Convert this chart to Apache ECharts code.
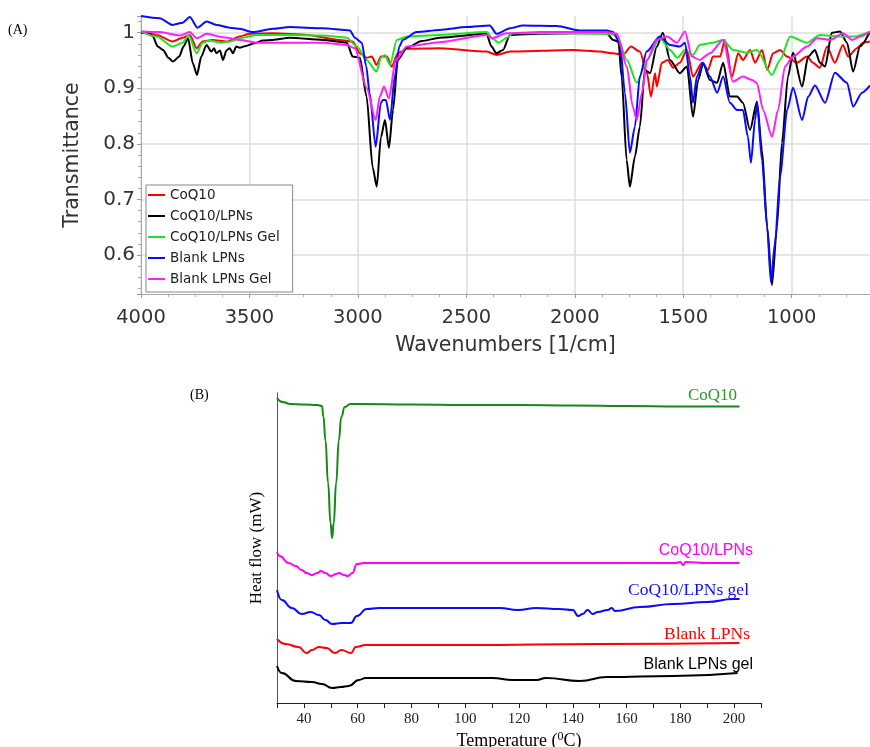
<!DOCTYPE html>
<html lang="en">
<head>
  <meta charset="UTF-8">
  <title>FTIR and DSC</title>
  <style>
    html, body { margin: 0; padding: 0; background: #fff; }
    #chart { width: 870px; height: 747px; }
  </style>
</head>
<body>
  <div id="chart"></div>
  <script src="https://cdn.jsdelivr.net/npm/echarts@6/dist/echarts.min.js"></script>
  <script>
    // (A) FTIR spectra, [wavenumber 1/cm, transmittance]
    var ftirNames = ['CoQ10', 'CoQ10/LPNs', 'CoQ10/LPNs Gel', 'Blank LPNs', 'Blank LPNs Gel'];
    var ftirColors = ['#ff0000', '#000000', '#1ee61e', '#0a0aff', '#ff1eff'];

    var ftirCoq10 = [[4000,1.002],[3928,0.996],[3854,0.984],[3808,0.991],[3775,0.996],[3743,0.972],[3716,0.984],[3670,0.987],[3605,0.984],[3545,0.993],[3499,0.998],[3392,0.999],[3236,0.996],[3083,0.987],[3024,0.984],[2991,0.963],[2960,0.955],[2936,0.957],[2914,0.942],[2894,0.957],[2866,0.957],[2844,0.939],[2816,0.963],[2774,0.971],[2623,0.972],[2406,0.966],[2360,0.960],[2299,0.966],[2009,0.969],[1884,0.966],[1825,0.963],[1778,0.960],[1741,0.975],[1700,0.966],[1667,0.927],[1649,0.885],[1630,0.927],[1622,0.903],[1599,0.946],[1571,0.951],[1547,0.937],[1516,0.946],[1483,0.969],[1455,0.921],[1414,0.946],[1386,0.933],[1363,0.957],[1330,0.957],[1308,0.987],[1275,0.921],[1247,0.963],[1225,0.951],[1192,0.969],[1169,0.946],[1137,0.969],[1113,0.933],[1086,0.963],[1054,0.969],[1021,0.957],[976,0.946],[929,0.957],[902,0.946],[870,0.937],[837,0.975],[801,0.946],[764,0.978],[740,0.957],[699,0.972],[671,0.982],[639,0.984]];

    var ftirCoq10Lpn = [[4000,1.0],[3960,0.999],[3945,0.993],[3923,0.975],[3898,0.969],[3874,0.955],[3853,0.948],[3824,0.957],[3804,0.975],[3783,0.990],[3761,0.945],[3742,0.924],[3722,0.957],[3698,0.978],[3676,0.966],[3663,0.972],[3653,0.963],[3636,0.968],[3622,0.951],[3606,0.968],[3591,0.972],[3576,0.963],[3561,0.975],[3545,0.973],[3517,0.976],[3477,0.981],[3437,0.986],[3392,0.987],[3314,0.991],[3162,0.987],[3051,0.982],[3024,0.957],[2991,0.955],[2960,0.885],[2932,0.758],[2913,0.723],[2894,0.812],[2875,0.843],[2857,0.793],[2838,0.861],[2816,0.951],[2774,0.973],[2705,0.985],[2623,0.991],[2407,0.998],[2384,0.975],[2361,0.963],[2331,0.969],[2299,0.996],[2160,0.998],[2008,0.999],[1853,0.999],[1823,0.987],[1799,0.984],[1784,0.921],[1761,0.771],[1746,0.723],[1723,0.777],[1700,0.831],[1677,0.933],[1653,0.927],[1622,0.975],[1594,1.0],[1561,0.951],[1516,0.927],[1483,0.939],[1455,0.849],[1431,0.915],[1408,0.945],[1377,0.915],[1344,0.910],[1316,0.946],[1285,0.885],[1252,0.885],[1225,0.874],[1192,0.825],[1160,0.876],[1137,0.789],[1113,0.650],[1091,0.546],[1068,0.650],[1045,0.802],[1017,0.921],[994,0.964],[952,0.903],[924,0.957],[893,0.969],[870,0.946],[846,0.939],[815,1.0],[777,1.002],[745,0.982],[717,0.930],[685,0.975],[639,1.002]];

    var ftirCoq10LpnGel = [[4000,1.002],[3928,0.993],[3854,0.975],[3808,0.982],[3780,0.995],[3743,0.963],[3716,0.982],[3684,0.986],[3637,0.982],[3591,0.984],[3531,0.991],[3466,0.996],[3314,0.996],[3162,0.995],[3051,0.991],[3005,0.975],[2960,0.951],[2914,0.930],[2894,0.955],[2876,0.960],[2852,0.942],[2821,0.987],[2774,0.993],[2623,0.996],[2406,1.001],[2378,0.989],[2351,0.982],[2314,0.991],[2286,0.999],[2009,0.999],[1852,0.998],[1806,0.996],[1760,0.951],[1714,0.910],[1667,0.951],[1608,0.991],[1561,0.969],[1527,0.955],[1492,0.969],[1455,0.960],[1424,0.978],[1363,0.982],[1316,0.987],[1271,0.969],[1207,0.964],[1160,0.969],[1091,0.924],[1054,0.951],[1007,0.993],[929,0.982],[870,0.996],[777,0.993],[717,0.993],[639,1.002]];

    var ftirBlankLpn = [[4000,1.030],[3914,1.026],[3854,1.014],[3808,1.018],[3775,1.028],[3739,1.009],[3697,1.020],[3651,1.014],[3591,1.009],[3545,1.007],[3485,1.001],[3392,1.007],[3314,1.010],[3162,1.008],[3037,1.004],[3014,0.991],[2982,0.982],[2962,0.940],[2946,0.892],[2918,0.795],[2894,0.874],[2885,0.879],[2871,0.879],[2852,0.843],[2830,0.921],[2809,0.975],[2793,0.987],[2729,1.001],[2623,1.005],[2498,1.010],[2392,1.013],[2361,0.998],[2299,1.008],[2239,1.013],[2083,1.012],[1976,1.004],[1852,1.004],[1825,1.001],[1792,0.982],[1769,0.892],[1746,0.784],[1723,0.831],[1700,0.921],[1669,0.966],[1608,0.993],[1561,0.978],[1516,0.975],[1492,0.982],[1469,0.921],[1455,0.874],[1437,0.921],[1409,0.946],[1377,0.921],[1344,0.892],[1316,0.921],[1285,0.874],[1252,0.861],[1225,0.861],[1202,0.813],[1188,0.766],[1169,0.843],[1160,0.874],[1137,0.771],[1113,0.650],[1096,0.551],[1077,0.622],[1054,0.741],[1021,0.861],[994,0.901],[952,0.843],[924,0.885],[893,0.905],[846,0.874],[801,0.928],[745,0.910],[717,0.867],[676,0.892],[639,0.905]];

    var ftirBlankLpnGel = [[4000,1.002],[3914,1.001],[3822,0.995],[3775,1.001],[3743,0.990],[3697,0.998],[3623,0.992],[3545,0.987],[3466,0.982],[3314,0.982],[3162,0.982],[3051,0.978],[3014,0.972],[2960,0.901],[2918,0.843],[2899,0.885],[2880,0.903],[2857,0.882],[2826,0.950],[2774,0.975],[2623,0.983],[2406,0.996],[2382,0.990],[2314,0.999],[2161,1.001],[1852,1.001],[1806,0.998],[1760,0.939],[1733,0.867],[1714,0.843],[1691,0.891],[1667,0.951],[1622,0.987],[1575,0.993],[1529,0.982],[1492,1.002],[1460,0.957],[1424,0.951],[1377,0.963],[1316,0.987],[1271,0.912],[1225,0.921],[1183,0.915],[1160,0.909],[1132,0.861],[1091,0.813],[1063,0.861],[1031,0.939],[994,0.957],[929,0.975],[883,0.990],[823,0.987],[763,0.999],[721,0.987],[685,0.993],[639,1.002]];

    var ftirData = [ftirCoq10, ftirCoq10Lpn, ftirCoq10LpnGel, ftirBlankLpn, ftirBlankLpnGel];

    // (B) DSC thermograms, [temperature C, heat flow (offset, arb.)]
    var dscNames = ['CoQ10', 'CoQ10/LPNs', 'CoQ10/LPNs gel', 'Blank LPNs', 'Blank LPNs gel'];
    var dscColors = ['#138a13', '#ff00ff', '#0a0aff', '#ff0000', '#000000'];

    var dscCoq10 = [[30,30.5],[32,30.1],[35,29.9],[40,29.85],[45,29.8],[46.7,29.7],[47.3,28.6],[48,26.3],[49,22.0],[49.9,18.0],[50.5,16.5],[51.1,18.0],[52,22.0],[53,26.3],[53.9,28.6],[55.2,29.6],[57.3,29.9],[60,29.9],[80,29.85],[100,29.8],[120,29.8],[140,29.75],[160,29.7],[180,29.65],[202,29.65]];
    var dscCoq10Lpn = [[30,15.1],[31,14.7],[34.3,14.0],[37,13.7],[39.2,13.3],[41,13.0],[43,12.8],[45,13.0],[46.3,13.2],[48,13.0],[50,12.7],[52,12.9],[53,13.0],[55,12.8],[56.4,12.7],[58,13.0],[59.7,13.9],[62.3,14.0],[100,14.0],[178,14.0],[180,14.1],[181,13.8],[182,14.1],[190,14.0],[202,14.0]];
    var dscCoq10LpnGel = [[30,11.3],[31.8,10.3],[35.5,9.5],[39.2,8.9],[42.5,9.1],[45.6,8.8],[48,8.3],[50.5,7.9],[54,8.0],[57.5,8.0],[59.7,8.7],[63.4,9.4],[68,9.5],[100,9.5],[112.8,9.5],[119.5,9.3],[126.5,9.5],[135,9.4],[140,9.3],[142,8.7],[143.7,8.9],[145.5,9.3],[147.4,8.9],[149.3,9.1],[153,9.3],[154.5,9.5],[155.7,9.2],[165,9.6],[177.4,9.9],[190,10.1],[199.7,10.4],[202,10.4]];
    var dscBlankLpn = [[30,6.4],[33.2,5.9],[38,5.6],[41,5.0],[43,5.3],[45.6,5.6],[48.5,5.5],[51.5,5.0],[54,5.3],[57.5,5.0],[59.3,5.6],[63,5.8],[100,5.8],[150,5.9],[202,6.0]];
    var dscBlankLpnGel = [[30,3.7],[31.8,3.0],[37,2.2],[43,2.1],[46.7,1.9],[50.5,1.5],[53.7,1.6],[56.7,1.7],[60.4,2.3],[63,2.5],[110,2.5],[117.7,2.3],[126.5,2.3],[130,2.5],[142.6,2.2],[152.7,2.6],[177.4,2.7],[201.3,3.0]];

    var dscData = [dscCoq10, dscCoq10Lpn, dscCoq10LpnGel, dscBlankLpn, dscBlankLpnGel];

    var sans = 'DejaVu Sans';
    var serif = 'Liberation Serif';

    var series = [];
    ftirData.forEach(function (d, i) {
      series.push({
        name: ftirNames[i], type: 'line', xAxisIndex: 0, yAxisIndex: 0,
        data: d, showSymbol: false, smooth: 0.25, smoothMonotone: 'x',
        lineStyle: { color: ftirColors[i], width: 2 }, itemStyle: { color: ftirColors[i] }
      });
    });
    dscData.forEach(function (d, i) {
      series.push({
        name: 'DSC ' + dscNames[i], type: 'line', xAxisIndex: 1, yAxisIndex: 1,
        data: d, showSymbol: false, smooth: 0.5, smoothMonotone: 'x',
        lineStyle: { color: dscColors[i], width: 2 }
      });
    });

    // labels beside the DSC curves
    var dscLabels = [
      { x: 737, y: 396, font: '17px "Liberation Serif"', fill: '#2a9a2a' },
      { x: 753, y: 551, font: '16px "Liberation Sans"', fill: '#ff00ff' },
      { x: 749, y: 590, font: '17.5px "Liberation Serif"', fill: '#1010ff' },
      { x: 750, y: 634, font: '17.5px "Liberation Serif"', fill: '#ff0000' },
      { x: 753, y: 665, font: '16px "Liberation Sans"', fill: '#000' }
    ];
    var graphics = [
      { type: 'text', x: 8, y: 30, style: { text: '(A)', font: '14px "Liberation Serif"', fill: '#000', verticalAlign: 'middle' } },
      { type: 'text', x: 190, y: 395, style: { text: '(B)', font: '14px "Liberation Serif"', fill: '#000', verticalAlign: 'middle' } }
    ];
    dscLabels.forEach(function (l, i) {
      graphics.push({ type: 'text', x: l.x, y: l.y, style: { text: dscNames[i], font: l.font, fill: l.fill, align: 'right', verticalAlign: 'middle' } });
    });

    var chart = echarts.init(document.getElementById('chart'));
    chart.setOption({
      animation: false,
      backgroundColor: '#fff',
      grid: [
        { left: 141, top: 16, width: 729, height: 278, outerBoundsMode: 'none' },
        { left: 277, top: 393, width: 484, height: 310, outerBoundsMode: 'none' }
      ],
      legend: {
        data: ftirNames,
        orient: 'vertical', left: 146, top: 185,
        icon: 'rect', itemWidth: 17, itemHeight: 2, itemGap: 7,
        padding: [3, 13, 6, 2],
        borderColor: '#888', borderWidth: 1, backgroundColor: '#fff',
        textStyle: { fontFamily: sans, fontSize: 13.5, color: '#222', lineHeight: 14 }
      },
      xAxis: [
        {
          gridIndex: 0, type: 'value', inverse: true, min: 639, max: 4000, splitNumber: 7,
          name: 'Wavenumbers [1/cm]', nameLocation: 'middle', nameGap: 41,
          nameTextStyle: { fontFamily: sans, fontSize: 20.5, color: '#333' },
          axisLine: { lineStyle: { color: '#aaa' } },
          axisTick: { show: true, length: 4, lineStyle: { color: '#999' } },
          minorTick: { show: true, splitNumber: 4, length: 3, lineStyle: { color: '#aaa' } },
          axisLabel: {
            fontFamily: sans, fontSize: 19.5, color: '#333', margin: 14, showMinLabel: false,
            formatter: function (v) { return String(v); }
          },
          splitLine: { show: true, showMinLine: false, lineStyle: { color: '#dcdcdc', width: 1.5 } }
        },
        {
          gridIndex: 1, type: 'value', min: 30, max: 210, interval: 10,
          name: '{t|Temperature (}{s|0}{t|C)}', nameLocation: 'middle', nameGap: 28,
          nameTextStyle: {
            rich: {
              t: { fontFamily: serif, fontSize: 18, color: '#000', lineHeight: 20 },
              s: { fontFamily: serif, fontSize: 12, color: '#000', verticalAlign: 'top', padding: [0, 0, 6, 0] }
            }
          },
          axisLine: { lineStyle: { color: '#222' } },
          axisTick: { length: 5, lineStyle: { color: '#222' } },
          axisLabel: {
            fontFamily: serif, fontSize: 15, color: '#222', margin: 9,
            formatter: function (v) { return (v % 20 === 0 && v > 30 && v < 210) ? String(v) : ''; }
          },
          splitLine: { show: false }
        }
      ],
      yAxis: [
        {
          gridIndex: 0, type: 'value', min: 0.53, max: 1.03, splitNumber: 5,
          name: 'Transmittance', nameLocation: 'middle', nameGap: 58,
          nameTextStyle: { fontFamily: sans, fontSize: 20.5, color: '#333' },
          axisLine: { show: true, lineStyle: { color: '#aaa' } },
          axisTick: { show: true, length: 4, lineStyle: { color: '#999' } },
          minorTick: { show: true, splitNumber: 5, length: 3, lineStyle: { color: '#aaa' } },
          axisLabel: { fontFamily: sans, fontSize: 20, color: '#333', margin: 6, showMinLabel: false, showMaxLabel: false },
          splitLine: { show: true, showMaxLine: false, showMinLine: false, lineStyle: { color: '#dcdcdc', width: 1.5 } }
        },
        {
          gridIndex: 1, type: 'value', min: 0, max: 31,
          name: 'Heat flow (mW)', nameLocation: 'middle', nameGap: 12,
          nameTextStyle: { fontFamily: serif, fontSize: 17, color: '#000' },
          axisLine: { show: true, lineStyle: { color: '#555' } },
          axisTick: { show: false },
          axisLabel: { show: false },
          splitLine: { show: false }
        }
      ],
      graphic: graphics,
      series: series
    });
  </script>
</body>
</html>
